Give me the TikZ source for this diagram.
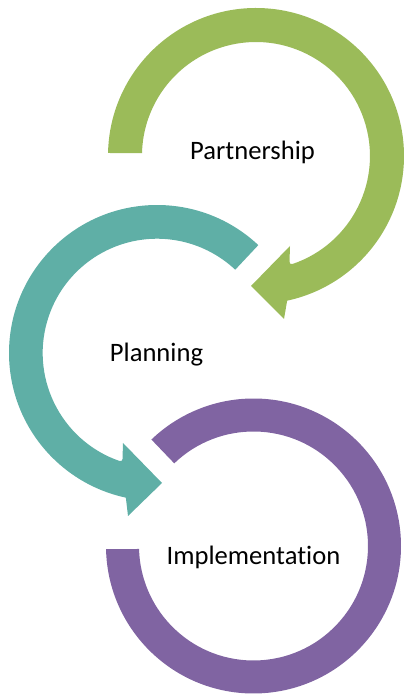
\documentclass[tikz,border=0pt]{standalone}
\usepackage{fontspec}
\setmainfont[Ligatures=NoCommon]{Carlito}
\definecolor{cgreen}{HTML}{9BBB59}
\definecolor{cteal}{HTML}{5FAFA6}
\definecolor{cpurple}{HTML}{8064A2}
\tikzset{
  label text/.style={font=\fontsize{26.6}{30}\selectfont, text=black, inner sep=0pt, anchor=base},
  band/.style={line width=0pt, draw=none}
}
\begin{document}
\begin{tikzpicture}[x=1pt,y=1pt]
\useasboundingbox (0,0) rectangle (405,695);
% green arrow
\fill[cgreen,band] (256,539) ++(178.84:148) arc[start angle=178.84,end angle=-77.85,radius=148]
  -- (284,376) -- (251,409) -- (290,449) -- (289.5,433)
  .. controls (289.5,431) and (291,430.5) .. (292.5,431)
  arc[start angle=-71.3,end angle=178.5,radius=114] -- cycle;
% teal arrow
\fill[cteal,band] (157,342) ++(46.8:148) arc[start angle=46.8,end angle=257.85,radius=148]
  -- (128,179) -- (162,212) -- (123,252) -- (122.5,236)
  .. controls (122.5,234) and (121,233.5) .. (119.5,234)
  arc[start angle=250.85,end angle=46.8,radius=114.3] -- cycle;
% purple arrow
\fill[cpurple,band] (253.5,149) ++(181.2:147.5) arc[start angle=181.2,end angle=493.8,radius=147.5]
  -- ++(-46.2:33) arc[start angle=493.8,end angle=181.5,radius=114.5] -- cycle;
\node[label text] (partnership) at (252.5,535.5) {Partnership};
\node[label text] (planning) at (156.5,333.5) {Planning};
\node[label text] (implementation) at (253.5,130.5) {Implementation};
\end{tikzpicture}
\end{document}
